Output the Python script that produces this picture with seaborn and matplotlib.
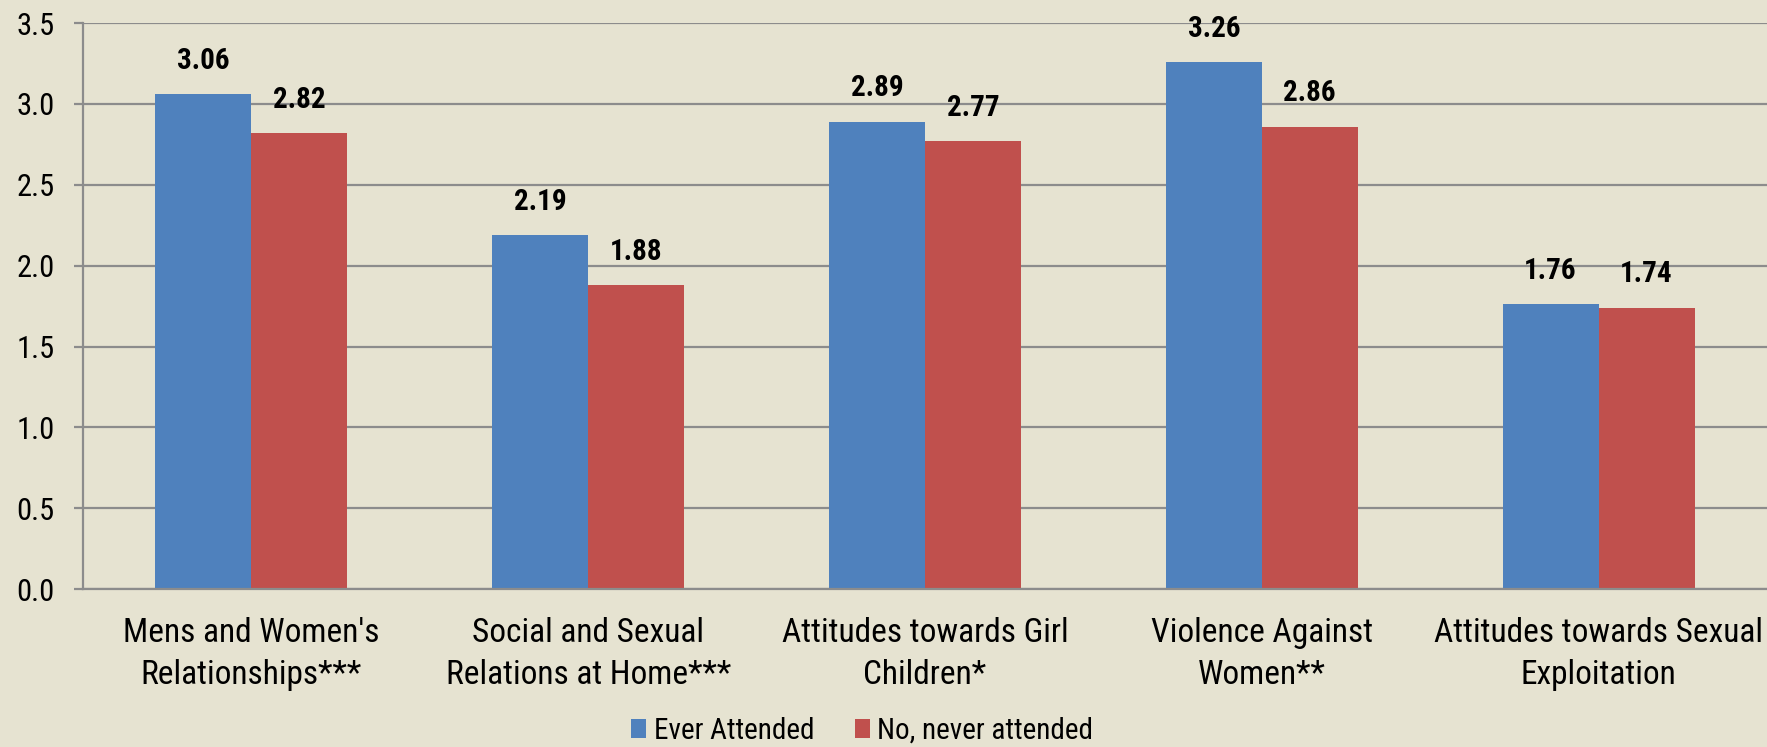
import matplotlib
matplotlib.use("Agg")
import matplotlib.pyplot as plt
import seaborn as sns
import pandas as pd
import numpy as np
from matplotlib import font_manager

categories = ["Mens and Women's\nRelationships***",
              "Social and Sexual\nRelations at Home***",
              "Attitudes towards Girl\nChildren*",
              "Violence Against\nWomen**",
              "Attitudes towards Sexual\nExploitation"]
series_names = ["Ever Attended", "No, never attended"]
ever_attended = [3.06, 2.19, 2.89, 3.26, 1.76]
never_attended = [2.82, 1.88, 2.77, 2.86, 1.74]
y_ticks = [0.0, 0.5, 1.0, 1.5, 2.0, 2.5, 3.0, 3.5]

bg = "#E6E3D1"
colors = ["#4F81BD", "#C0504D"]
grid_c = "#8C8C8C"

sns.set_theme(style="white")
entries = font_manager.fontManager.ttflist
names = sorted({f.name for f in entries})
stretch = "normal"
fam = "DejaVu Sans"
for cand in ["Liberation Sans Narrow", "Roboto Condensed", "Open Sans Condensed", "Arial Narrow"]:
    if cand in names:
        fam = cand
        break
else:
    if any(f.name == "DejaVu Sans" and f.stretch in ("condensed", "semi-condensed") for f in entries):
        stretch = "condensed"
    elif "Roboto" in names:
        fam = "Roboto"
plt.rcParams['font.family'] = [fam, 'DejaVu Sans']
plt.rcParams['font.stretch'] = stretch
plt.rcParams['text.color'] = 'black'
plt.rcParams['xtick.color'] = 'black'
plt.rcParams['ytick.color'] = 'black'

df = pd.DataFrame({
    "cat": categories * 2,
    "series": [series_names[0]] * 5 + [series_names[1]] * 5,
    "val": ever_attended + never_attended,
})

fig = plt.figure(figsize=(17.67, 7.47), dpi=100, facecolor=bg)
ax = fig.add_axes([0.047, 0.2115, 0.953, 0.7575])
ax.set_facecolor(bg)

sns.barplot(data=df, x="cat", y="val", hue="series", palette=colors,
            width=0.57, gap=0, ax=ax, saturation=1, legend=True,
            edgecolor="none", linewidth=0)

for cont in ax.containers:
    ax.bar_label(cont, labels=[f"{v:.2f}" for v in cont.datavalues],
                 padding=14, fontsize=21, fontweight="bold", color="black")

ax.set_ylim(0, 3.5)
ax.set_xlim(-0.5, 4.5)
ax.set_yticks(y_ticks)
ax.set_yticklabels([f"{v:.1f}" for v in y_ticks], fontsize=22)
ax.yaxis.grid(True, color=grid_c, linewidth=1.6)
ax.set_axisbelow(True)
ax.set_xlabel("")
ax.set_ylabel("")
ax.tick_params(axis="x", which="major", length=0, labelsize=24, pad=20)
ax.set_xticks(np.arange(-0.5, 5.0, 1.0), minor=True)
ax.tick_params(axis="x", which="minor", length=7, width=1.6, color=grid_c)
ax.tick_params(axis="y", length=6.5, width=1.6, color=grid_c, left=True, labelsize=22, pad=14)
for lbl in ax.get_xticklabels():
    lbl.set_linespacing(1.4)
for s in ["top", "right"]:
    ax.spines[s].set_visible(False)
for s in ["left", "bottom"]:
    ax.spines[s].set_color(grid_c)
    ax.spines[s].set_linewidth(1.6)

leg = ax.legend(loc="center", bbox_to_anchor=(0.488, 0.022), bbox_transform=fig.transFigure,
                ncol=2, frameon=False, fontsize=21, handlelength=0.52, handleheight=0.6,
                handletextpad=0.25, columnspacing=1.4, title=None, borderpad=0.2)

fig.savefig("out.png", dpi=100, facecolor=bg)
